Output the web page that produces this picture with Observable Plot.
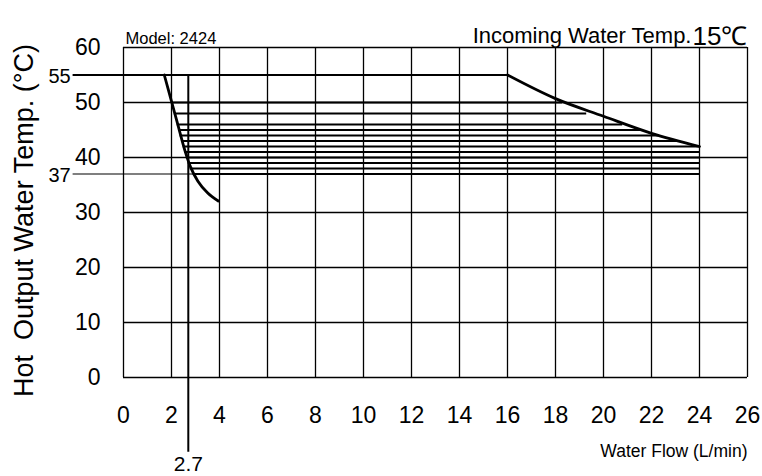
<!DOCTYPE html>
<html><head><meta charset="utf-8">
<script src="https://cdn.jsdelivr.net/npm/d3@7"></script>
<script src="https://cdn.jsdelivr.net/npm/@observablehq/plot@0.6"></script>
<style>body{margin:0;background:#fff} svg{display:block}</style>
</head><body><div id="chart"></div>
<script>
// Tick labels
const xTicks = [0, 2, 4, 6, 8, 10, 12, 14, 16, 18, 20, 22, 24, 26];
const yTicks = [0, 10, 20, 30, 40, 50, 60];

// Horizontal operating lines (temperature, start flow, end flow)
const bandTemps = [50, 48, 46, 45, 44, 43, 42, 41, 40, 39, 38, 37];
const bandStart = [2.0, 2.12, 2.24, 2.3, 2.36, 2.42, 2.49, 2.55, 2.62, 2.7, 2.78, 2.9];
const bandEnd   = [18.3, 19.3, 20.8, 21.6, 22.3, 23.1, 24, 24, 24, 24, 24, 24];

// Left (minimum flow) curve
const leftCurveX = [1.7, 2.0, 2.25, 2.55, 2.8, 3.1, 3.5, 3.95];
const leftCurveT = [55, 50.2, 46.2, 41.4, 38.2, 35.7, 33.6, 32.1];

// Right (maximum flow) curve
const rightCurveX = [16, 18, 20, 22, 24];
const rightCurveT = [55, 50.7, 47.5, 44.4, 42];

// Reference lines
const maxTempLine = {x1: -2.1, x2: 16, t: 55};
const minTempLine = {x1: -2.1, x2: 2.9, t: 37};
const minFlowLine = {x: 2.7, t1: 55, t2: -13.6};
const refLabels = [{x: -2.2, t: 55, label: "55"}, {x: -2.2, t: 37, label: "37"}];

const bands = bandTemps.map((t, i) => ({t, x1: bandStart[i], x2: bandEnd[i]}));
const leftCurve = leftCurveX.map((x, i) => ({x, t: leftCurveT[i]}));
const rightCurve = rightCurveX.map((x, i) => ({x, t: rightCurveT[i]}));

const chart = Plot.plot({
  width: 762,
  height: 476,
  marginLeft: 123,
  marginRight: 15,
  marginTop: 47,
  marginBottom: 99,
  x: {domain: [0, 26]},
  y: {domain: [0, 60]},
  style: {fontFamily: "'Liberation Sans', Arial, sans-serif", color: "#000", background: "#fff"},
  marks: [
    Plot.ruleX(xTicks, {stroke: "#000", strokeWidth: 1.3}),
    Plot.ruleY(yTicks, {stroke: "#000", strokeWidth: 1.3}),
    Plot.ruleY(bands, {y: "t", x1: "x1", x2: "x2", stroke: "#000", strokeWidth: 2.2}),
    Plot.ruleY([maxTempLine], {y: "t", x1: "x1", x2: "x2", stroke: "#000", strokeWidth: 2.2, clip: false}),
    Plot.ruleY([minTempLine], {y: "t", x1: "x1", x2: "x2", stroke: "#000", strokeWidth: 1.2, clip: false}),
    Plot.ruleX([minFlowLine], {x: "x", y1: "t1", y2: "t2", stroke: "#000", strokeWidth: 2, clip: false}),
    Plot.line(leftCurve, {x: "x", y: "t", curve: "monotone-x", stroke: "#000", strokeWidth: 2.8}),
    Plot.line(rightCurve, {x: "x", y: "t", curve: "monotone-x", stroke: "#000", strokeWidth: 2.8}),
    Plot.text(refLabels, {x: "x", y: "t", text: "label", textAnchor: "end", dy: 2, fontSize: 20, clip: false}),
    Plot.text(["2.7"], {x: minFlowLine.x, y: minFlowLine.t2, dy: 12, fontSize: 21, clip: false}),
    Plot.axisX({ticks: xTicks, tickSize: 0, tickPadding: 29, fontSize: 23}),
    Plot.axisY({ticks: yTicks, tickSize: 0, tickPadding: 23, fontSize: 23, label: null}),
    Plot.text(["Hot  Output Water Temp. (°C)"], {frameAnchor: "left", textAnchor: "middle", dx: -99, dy: 8, rotate: -90, fontSize: 27}),
    Plot.text(["Water Flow (L/min)"], {frameAnchor: "bottom-right", textAnchor: "end", dy: 79, fontSize: 17.5}),
    Plot.text(["Model: 2424"], {frameAnchor: "top-left", textAnchor: "start", dx: 2, dy: -15, fontSize: 16.5}),
    Plot.text(["15℃"], {frameAnchor: "top-right", textAnchor: "end", dy: -21, fontSize: 26}),
    Plot.text(["Incoming Water Temp."], {frameAnchor: "top-right", textAnchor: "end", dx: -56, dy: -20, fontSize: 22})
  ]
});
document.getElementById("chart").append(chart);
</script>
</body></html>
